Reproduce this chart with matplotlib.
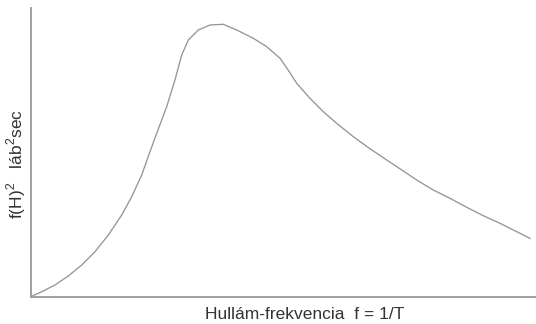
# hullámspektrum vázlat: energia-sűrűség a frekvencia függvényében
import matplotlib.pyplot as plt

plt.rcParams['font.family'] = ['Liberation Sans', 'DejaVu Sans']
plt.rcParams['mathtext.fontset'] = 'custom'
plt.rcParams['mathtext.rm'] = 'Liberation Sans'

# spektrum pontjai (tetszőleges egységek, x: 0-100, y: 0-100)
frekvencia = [0, 0.26, 2.12, 4.75, 7.39, 10.04, 12.67, 15.31, 17.96, 19.94,
              21.92, 23.56, 24.89, 26.87, 28.51, 29.84, 31.15, 33.13, 35.45,
              38.08, 40.73, 44.02, 46.67, 49.31, 51.15, 52.61, 55.25, 57.88,
              60.53, 63.82, 67.13, 70.44, 74.06, 76.38, 79.66, 82.97, 86.28,
              89.56, 92.87, 96.18, 98.81]
energia = [0, 0.35, 1.83, 4.15, 7.27, 11.07, 15.67, 21.45, 28.37, 34.71,
           42.21, 50.28, 56.64, 65.85, 75.09, 83.74, 88.93, 92.39, 94.12,
           94.36, 92.39, 89.52, 86.61, 82.6, 77.96, 73.94, 68.75, 64.12,
           60.1, 55.47, 51.3, 47.4, 43.2, 40.48, 37.02, 34.15, 31.04,
           28.13, 25.5, 22.6, 20.31]

vonal_szin = '#959595'
szoveg_szin = '#333333'

fig = plt.figure(figsize=(5.36, 3.24), dpi=100)
ax = fig.add_axes([31 / 536, 27 / 324, 505 / 536, 289 / 324])

ax.plot(frekvencia, energia, color=vonal_szin, linewidth=0.95,
        solid_joinstyle='round')
ax.set_xlim(0, 100)
ax.set_ylim(0, 100)

ax.spines['top'].set_visible(False)
ax.spines['right'].set_visible(False)
for s in ['left', 'bottom']:
    ax.spines[s].set_color('#a0a0a0')
    ax.spines[s].set_linewidth(1.4)
ax.set_xticks([])
ax.set_yticks([])

fig.text(305 / 536, 5 / 324, 'Hullám-frekvencia  f = 1/T',
         ha='center', va='baseline', fontsize=12.5, color=szoveg_szin)
fig.text(16 / 536, 160 / 324, r'f(H)$^\mathregular{2}$   láb$^\mathregular{2}$sec',
         rotation=90, ha='center', va='center', fontsize=12.5,
         color=szoveg_szin)

fig.savefig('out.png', dpi=100)
